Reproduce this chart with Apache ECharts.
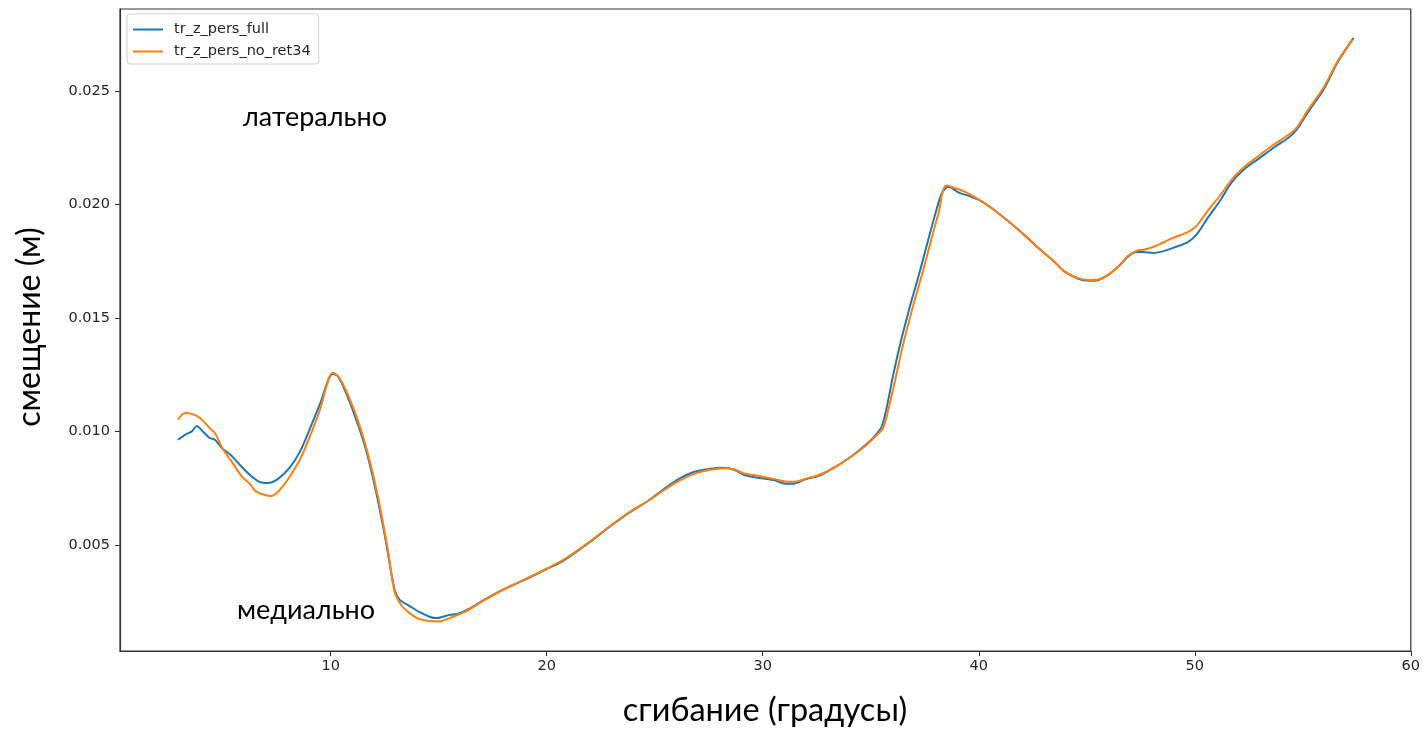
<!DOCTYPE html>
<html><head><meta charset="utf-8">
<script src="https://cdn.jsdelivr.net/npm/echarts@6/dist/echarts.min.js"></script>
<style>html,body{margin:0;padding:0;background:#fff}#c{width:1423px;height:729px}</style>
</head><body><div id="c"></div>
<script>
const seriesNames = ['tr_z_pers_full', 'tr_z_pers_no_ret34'];
const xTicks = [10, 20, 30, 40, 50, 60];
const yTicks = [0.005, 0.010, 0.015, 0.020, 0.025];
const full = [
[2.93,0.00963],[3.25,0.00985],[3.57,0.0100],[3.8,0.01024],[4.08,0.0100],[4.4,0.00971],[4.64,0.00963],
[4.96,0.00927],[5.42,0.00892],[5.8,0.00852],[6.26,0.00808],[6.7,0.00778],[7.1,0.00773],[7.55,0.0079],
[8.1,0.0084],[8.57,0.0091],[9.03,0.0101],[9.5,0.0112],[10.1,0.01253],[10.32,0.01244],[10.65,0.01183],
[11.1,0.01073],[11.57,0.0094],[12.03,0.00764],[12.5,0.00544],[12.96,0.00302],[13.2,0.00258],[13.65,0.00231],
[14.1,0.00205],[14.6,0.00183],[14.9,0.00178],[15.5,0.00192],[15.87,0.00196],[16.4,0.00218],[17.1,0.00258],
[18.04,0.00306],[18.97,0.00346],[20.0,0.00394],[20.6,0.00421],[21.3,0.00465],[22.0,0.00513],[22.9,0.00579],
[23.8,0.00641],[24.75,0.00698],[25.44,0.00747],[26.1,0.0079],[26.83,0.00822],[27.5,0.00835],[28.2,0.0084],
[28.7,0.0083],[29.14,0.00808],[29.83,0.00795],[30.5,0.00786],[31.1,0.00769],[31.4,0.00769],[32.0,0.0079],
[32.6,0.00804],[33.3,0.0084],[34.0,0.00883],[34.7,0.00936],[35.15,0.00976],[35.5,0.0102],[35.75,0.0111],
[36.0,0.0123],[36.3,0.0136],[36.77,0.01535],[37.23,0.0169],[37.7,0.01857],[38.0,0.01962],[38.3,0.0205],
[38.6,0.02077],[39.1,0.0205],[39.55,0.02037],[40.1,0.02015],[40.7,0.01976],[41.4,0.01923],[42.1,0.01866],
[42.8,0.01804],[43.5,0.01747],[43.93,0.01707],[44.6,0.01672],[45.1,0.01663],[45.55,0.01667],[46.0,0.01689],
[46.5,0.01729],[46.9,0.01769],[47.3,0.0179],[47.6,0.0179],[48.1,0.01786],[48.6,0.01795],[49.0,0.01808],
[49.7,0.01835],[50.08,0.01866],[50.6,0.0194],[51.2,0.0202],[51.7,0.02095],[52.26,0.02152],[52.95,0.022],
[53.65,0.02249],[54.34,0.02293],[54.7,0.02326],[55.26,0.02408],[55.96,0.02504],[56.6,0.02623],[57.35,0.02733]
];
const noRet34 = [
[2.93,0.01051],[3.25,0.01081],[3.57,0.01077],[3.94,0.0106],[4.4,0.01015],[4.64,0.00993],[4.96,0.0093],
[5.42,0.00866],[5.9,0.008],[6.26,0.00769],[6.5,0.00738],[6.95,0.0072],[7.27,0.00716],[7.64,0.00742],
[8.1,0.008],[8.57,0.00875],[9.03,0.00976],[9.5,0.01095],[10.1,0.01258],[10.4,0.01236],[10.8,0.01161],
[11.25,0.01051],[11.7,0.0091],[12.17,0.0072],[12.63,0.00487],[12.96,0.00293],[13.3,0.00231],[13.65,0.002],
[14.1,0.00174],[14.6,0.00165],[15.04,0.00163],[15.5,0.00178],[16.2,0.00205],[17.1,0.00256],
[18.04,0.00306],[18.97,0.00348],[20.0,0.00396],[20.6,0.00425],[21.3,0.00468],[22.0,0.00515],[22.9,0.00581],
[23.8,0.00643],[24.75,0.00698],[25.44,0.00742],[26.1,0.00781],[26.83,0.00813],[27.5,0.0083],[28.2,0.00838],
[28.7,0.00832],[29.14,0.00815],[29.83,0.00804],[30.5,0.00791],[31.2,0.00778],[31.6,0.0078],[32.0,0.00792],
[32.6,0.00808],[33.3,0.0084],[34.0,0.00883],[34.7,0.00932],[35.15,0.00972],[35.57,0.01015],[35.85,0.0111],
[36.14,0.0123],[36.44,0.0136],[36.91,0.01535],[37.37,0.0169],[37.84,0.01857],[38.14,0.01962],[38.5,0.02083],
[39.1,0.02065],[39.55,0.02046],[40.1,0.02015],[40.7,0.01976],[41.4,0.01923],[42.1,0.01866],[42.8,0.01804],
[43.5,0.01747],[43.93,0.01707],[44.6,0.01675],[45.1,0.01667],[45.55,0.01669],[46.0,0.0169],[46.5,0.01729],
[46.9,0.01772],[47.3,0.01795],[47.63,0.018],[48.1,0.01813],[48.6,0.01835],[49.0,0.01852],[49.7,0.01879],
[50.08,0.01905],[50.6,0.01971],[51.2,0.02042],[51.7,0.02108],[52.26,0.02162],[52.95,0.02213],[53.65,0.02262],
[54.34,0.02306],[54.7,0.02335],[55.26,0.02418],[55.96,0.02513],[56.6,0.02628],[57.3,0.02724]
];
const chart = echarts.init(document.getElementById('c'), null, {renderer: 'canvas'});
const tickFont = {fontFamily: 'DejaVu Sans', fontSize: 14.5, color: '#262626'};
const titleFont = 'Lato, "Open Sans", "Liberation Sans", sans-serif';
chart.setOption({
  animation: false,
  backgroundColor: '#fff',
  grid: {left: 120, right: 11, top: 9, bottom: 78, show: true, borderColor: '#333', borderWidth: 1.2, containLabel: false},
  xAxis: {
    type: 'value', min: 0.245, max: 60,
    axisLine: {show: true, onZero: false, lineStyle: {color: '#333', width: 1.2}},
    axisTick: {show: true, length: 5, customValues: xTicks, lineStyle: {color: '#333'}},
    axisLabel: Object.assign({customValues: xTicks, margin: 8, formatter: v => String(Math.round(v))}, tickFont),
    splitLine: {show: false}
  },
  yAxis: {
    type: 'value', min: 0.00033, max: 0.0286,
    axisLine: {show: true, onZero: false, lineStyle: {color: '#333', width: 1.2}},
    axisTick: {show: true, length: 5, customValues: yTicks, lineStyle: {color: '#333'}},
    axisLabel: Object.assign({customValues: yTicks, margin: 10, formatter: v => v.toFixed(3)}, tickFont),
    splitLine: {show: false}
  },
  legend: {
    orient: 'vertical', left: 127, top: 14, padding: [8, 8, 5, 6], itemGap: 7,
    itemWidth: 30, itemHeight: 2, icon: 'rect',
    borderColor: '#d0d0d0', borderWidth: 1, borderRadius: 3, backgroundColor: '#fff',
    textStyle: {fontFamily: 'DejaVu Sans', fontSize: 14.5, color: '#262626', padding: [0, 0, 0, 6]},
    data: seriesNames
  },
  series: [
    {name: seriesNames[0], type: 'line', data: full, showSymbol: false, smooth: 0.3,
     lineStyle: {color: '#1f77b4', width: 2}, itemStyle: {color: '#1f77b4'}},
    {name: seriesNames[1], type: 'line', data: noRet34, showSymbol: false, smooth: 0.3,
     lineStyle: {color: '#ff7f0e', width: 2}, itemStyle: {color: '#ff7f0e'}}
  ],
  graphic: [
    {type: 'text', x: 243, y: 117, style: {text: 'латерально', font: '27px ' + titleFont, fill: '#000', align: 'left', verticalAlign: 'middle'}},
    {type: 'text', x: 237, y: 610, style: {text: 'медиально', font: '27px ' + titleFont, fill: '#000', align: 'left', verticalAlign: 'middle'}},
    {type: 'text', x: 765, y: 711, style: {text: 'сгибание (градусы)', font: '32.5px ' + titleFont, fill: '#000', align: 'center', verticalAlign: 'middle'}},
    {type: 'text', x: 30, y: 327, rotation: Math.PI / 2,
     style: {text: 'смещение (м)', font: '32px ' + titleFont, fill: '#000', align: 'center', verticalAlign: 'middle'}}
  ]
});
</script></body></html>
